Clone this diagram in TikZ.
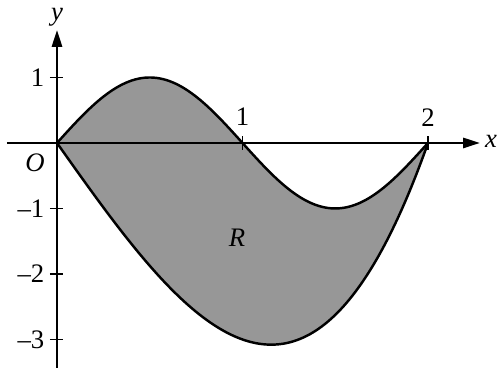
\documentclass[tikz,border=0pt]{standalone}
\usepackage{fontspec}
\setmainfont{Liberation Serif}
\usepackage{tikz}
\usetikzlibrary{arrows.meta, positioning}
\definecolor{regfill}{HTML}{979797}
\tikzset{
  axis/.style   = {line width=0.65pt, -{Triangle[length=4.8pt, width=2.9pt]}},
  curve/.style  = {line width=0.7pt, smooth},
  tick/.style   = {line width=0.55pt},
  lbl/.style    = {font=\fontsize{7.6}{8}\selectfont, inner sep=0pt},
  varlbl/.style = {lbl, font=\fontsize{7.6}{8}\selectfont\itshape},
}
\begin{document}
\begin{tikzpicture}[x=1.855cm, y=0.655cm]
  \useasboundingbox (-0.57cm,-2.25cm) rectangle (4.41cm,1.43cm);
  % shaded region between the two graphs
  \fill[regfill] plot[domain=0:2, samples=120] (\x,{sin(180*\x)})
    -- plot[domain=2:0, samples=120] (\x,{\x*\x*\x-4*\x}) -- cycle;
  \coordinate (xmin) at (-0.27,0);
  \coordinate (xmax) at (2.28,0);
  \coordinate (ymin) at (0,-3.43);
  \coordinate (ymax) at (0,1.725);
  \draw[axis] (xmin) -- (xmax);
  \draw[axis] (ymin) -- (ymax);
  \draw[curve] plot[domain=0:2, samples=120] (\x,{sin(180*\x)});
  \draw[curve] plot[domain=0:2, samples=120] (\x,{\x*\x*\x-4*\x});
  % ticks
  \foreach \t in {1,2}
    \draw[tick] (\t,-0.1) -- (\t,0.1);
  \foreach \t in {1,-1,-2,-3}
    \draw[tick] (-0.038,\t) -- (0.035,\t);
  \node[lbl] (xone) at (1,0.40) {1};
  \node[lbl] (xtwo) at (2,0.38) {2};
  \node[lbl, anchor=east] (yone) at (-0.065,1) {1};
  \node[lbl, anchor=east] (ymone) at (-0.065,-1) {–1};
  \node[lbl, anchor=east] (ymtwo) at (-0.065,-2) {–2};
  \node[lbl, anchor=east] (ymthree) at (-0.065,-3) {–3};
  \node[varlbl] (orig) at (-0.119,-0.305) {O};
  \node[varlbl] (xlab) at (2.34,0.02) {x};
  \node[varlbl] (ylab) at (0,1.92) {y};
  \node[varlbl] (reg) at (0.97,-1.45) {R};
\end{tikzpicture}
\end{document}
